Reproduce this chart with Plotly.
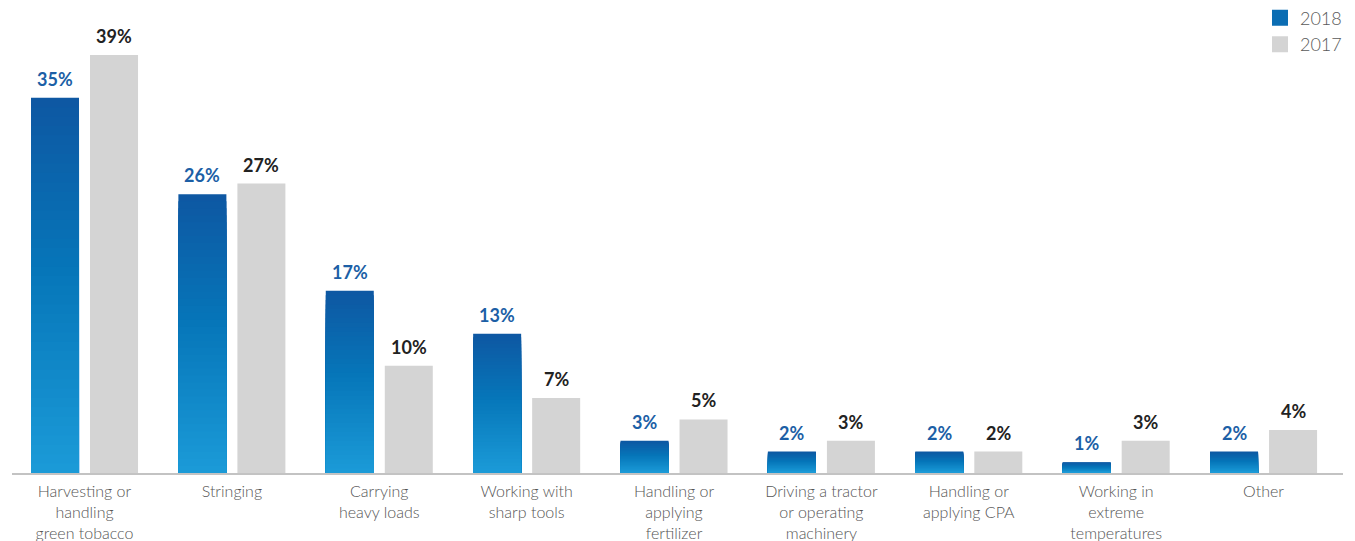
import plotly.graph_objects as go

# data
categories = ["Harvesting or<br>handling<br>green tobacco", "Stringing", "Carrying<br>heavy loads",
              "Working with<br>sharp tools", "Handling or<br>applying<br>fertilizer",
              "Driving a tractor<br>or operating<br>machinery", "Handling or<br>applying CPA",
              "Working in<br>extreme<br>temperatures", "Other"]
y2018 = [35, 26, 17, 13, 3, 2, 2, 1, 2]
y2017 = [39, 27, 10, 7, 5, 3, 2, 3, 4]

# vertical gradient for the 2018 bars (bottom -> mid -> top)
stops = [(0.0, (27, 155, 216)), (0.54, (6, 118, 185)), (1.0, (14, 87, 162))]


def grad(f):
    for (f0, c0), (f1, c1) in zip(stops, stops[1:]):
        if f <= f1:
            t = (f - f0) / (f1 - f0)
            return "rgb(%d,%d,%d)" % tuple(round(a + (b - a) * t) for a, b in zip(c0, c1))
    return "rgb(%d,%d,%d)" % stops[-1][1]


N = 40
xs, ys, cols = [], [], []
for k in range(N):
    frac = (N - k) / N
    for i, v in enumerate(y2018):
        xs.append(i)
        ys.append(v * frac)
        cols.append(grad(frac - 0.5 / N))

pos = list(range(len(categories)))
bw = 0.3257
off = 0.2002
light = "Lato Light, Lato"

fig = go.Figure()
fig.add_trace(go.Bar(x=xs, y=ys, name="2018", width=bw, offset=-off - bw / 2, showlegend=False,
                     marker=dict(color=cols, line_width=0), hoverinfo="skip"))
fig.add_trace(go.Bar(x=pos, y=y2017, name="2017", width=bw, offset=off - bw / 2, showlegend=False,
                     marker=dict(color="#d4d4d4", line_width=0)))

# legend entries (square swatches)
fig.add_trace(go.Scatter(x=[None], y=[None], mode="markers", name="2018",
                         marker=dict(symbol="square", size=16, color="#0b6db3")))
fig.add_trace(go.Scatter(x=[None], y=[None], mode="markers", name="2017",
                         marker=dict(symbol="square", size=16, color="#d4d4d4")))

# value labels
for i in pos:
    fig.add_annotation(x=i, y=y2018[i], text=f"{y2018[i]}%", xshift=-off * 147.4, yshift=6,
                       yanchor="bottom", showarrow=False,
                       font=dict(family="Lato", size=18, color="#1c5fa6", weight="bold"))
    fig.add_annotation(x=i, y=y2017[i], text=f"{y2017[i]}%", xshift=off * 147.4, yshift=6,
                       yanchor="bottom", showarrow=False,
                       font=dict(family="Lato", size=18, color="#222222", weight="bold"))

# page body has an 8px margin, so the figure is sized/placed to compensate
fig.update_layout(
    width=1347, height=533,
    margin=dict(l=4, r=12, t=12, b=68, autoexpand=False),
    barmode="overlay",
    plot_bgcolor="white", paper_bgcolor="white",
    font=dict(family=light, color="#555555"),
    showlegend=True,
    legend=dict(x=1.003, y=1.045, xanchor="right", yanchor="top", traceorder="normal",
                font=dict(family=light, size=18, color="#5a5a5a", weight=300),
                itemsizing="trace", itemwidth=30, bgcolor="rgba(0,0,0,0)"),
)
fig.update_xaxes(tickvals=pos, ticktext=categories, range=[-0.492, 8.539],
                 showline=True, linecolor="#c3c3c3", linewidth=2, showgrid=False,
                 zeroline=False, ticks="", ticklabelstandoff=3,
                 tickfont=dict(family=light, size=16, color="#555555", weight=300))
fig.update_yaxes(range=[0, 42.26], visible=False, showgrid=False, zeroline=False)

fig.write_html("out.html")
